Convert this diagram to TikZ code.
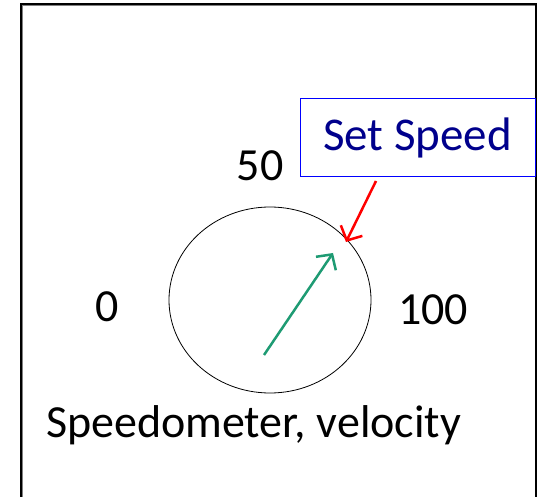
\documentclass[tikz,border=0pt]{standalone}
\usepackage{fontspec}
\setmainfont{Carlito}
\usepackage{xcolor}
\usepackage{tikz}
\usetikzlibrary{positioning,shapes,arrows.meta,calc}

\definecolor{setblue}{RGB}{0,0,140}
\definecolor{needle}{RGB}{30,155,115}

\begin{document}
\begin{tikzpicture}[x=1pt,y=1pt,
    lbl/.style={font=\fontsize{46}{55}\selectfont, inner sep=0pt},
    barb/.style={-{Straight Barb[length=11pt, width=24pt]}, line width=2.5pt}]
    \useasboundingbox (0,0) rectangle (541,496);
    \fill[white] (0,0) rectangle (541,496);

    % frame
    \draw[line width=1.3pt] (21,-5) -- (21,492) -- (536,492) -- (536,-5);
    \draw[line width=0.8pt, gray] (22.5,-5) -- (22.5,490.5) -- (535,490.5);

    % dial
    \node[draw, ellipse, minimum width=202pt, minimum height=186pt, line width=0.8pt] (gauge) at (270,196) {};
    \node[lbl] (zero) at (107,189) {0};
    \node[lbl] (fifty) at (260,330) {50};
    \node[lbl] (hundred) at (433,186) {100};
    \node[lbl, anchor=base] (caption) at (253.5,59) {Speedometer, velocity};

    % set speed
    \node[draw=blue, line width=1pt, minimum width=235pt, minimum height=78pt,
          text=setblue, font=\fontsize{47}{56}\selectfont] (setspeed) at (417.5,358) {Set Speed};

    \coordinate (needletail) at (264,141);
    \coordinate (needletip) at (333,243);
    \coordinate (redtail) at (376,315);
    \coordinate (mark) at (346,254);

    \draw[barb, needle] (needletail) -- (needletip);
    \draw[barb, red] (redtail) -- (mark);
\end{tikzpicture}
\end{document}
